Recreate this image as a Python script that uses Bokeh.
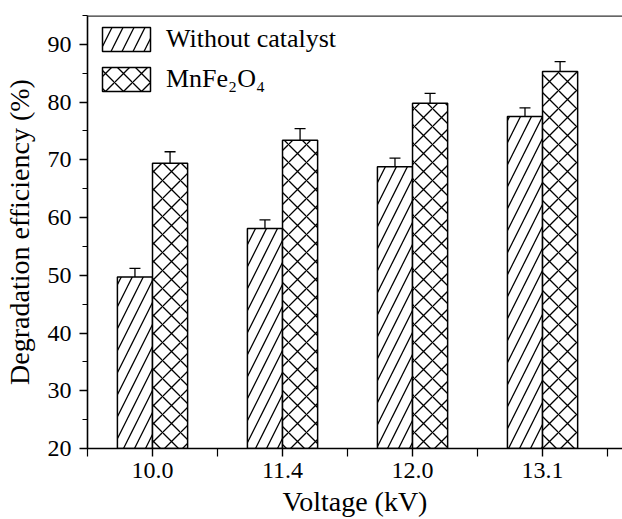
from bokeh.plotting import figure
from bokeh.models import (Range1d, FixedTicker, SingleIntervalTicker, Whisker, TeeHead,
                          ColumnDataSource, Span, Legend, LegendItem)
from bokeh.embed import file_html
from bokeh.resources import INLINE

# ---- data ----
voltages = ["10.0", "11.4", "12.0", "13.1"]
without_catalyst = [49.7, 58.1, 68.8, 77.5]
without_err = [1.5, 1.5, 1.5, 1.5]
mnfe2o4 = [69.4, 73.4, 79.8, 85.3]
mnfe2o4_err = [2.0, 2.0, 1.7, 1.7]
y_start, y_end = 20, 95
x_title = "Voltage (kV)"
y_title = "Degradation efficiency (%)"

FONT = "Liberation Serif"
BAR_W = 0.27

centers = [i + 0.5 for i in range(len(voltages))]
src1 = ColumnDataSource(dict(
    x=[c - BAR_W / 2 for c in centers], top=without_catalyst,
    upper=[v + e for v, e in zip(without_catalyst, without_err)],
    lower=[v - e for v, e in zip(without_catalyst, without_err)]))
src2 = ColumnDataSource(dict(
    x=[c + BAR_W / 2 for c in centers], top=mnfe2o4,
    upper=[v + e for v, e in zip(mnfe2o4, mnfe2o4_err)],
    lower=[v - e for v, e in zip(mnfe2o4, mnfe2o4_err)]))

x_end = 4.115
p = figure(width=622, height=519, output_backend="svg", toolbar_location=None,
           x_range=Range1d(0, x_end), y_range=Range1d(y_start, y_end),
           min_border_left=87, min_border_top=15, min_border_right=0, min_border_bottom=71)
p.outline_line_color = None
p.grid.visible = False
p.background_fill_color = "white"
p.border_fill_color = "white"

r1 = p.vbar(x="x", top="top", bottom=y_start, width=BAR_W, source=src1,
            fill_color="white", line_color="black", line_width=1.5,
            hatch_pattern="/", hatch_scale=22, hatch_weight=1.3, hatch_color="black")
r2 = p.vbar(x="x", top="top", bottom=y_start, width=BAR_W, source=src2,
            fill_color="white", line_color="black", line_width=1.5,
            hatch_pattern="x", hatch_scale=18, hatch_weight=1.3, hatch_color="black")

for s in (src1, src2):
    w = Whisker(base="x", upper="upper", lower="lower", source=s, line_width=1.3,
                line_color="black",
                upper_head=TeeHead(size=11, line_width=1.3, line_color="black"),
                lower_head=TeeHead(size=11, line_width=1.3, line_color="black"))
    p.add_layout(w)

# top border line
p.add_layout(Span(location=y_end, dimension="width", line_color="#333333", line_width=2.5))

# x axis
xa = p.xaxis[0]
xa.ticker = FixedTicker(ticks=centers, minor_ticks=list(range(len(voltages) + 1)))
xa.major_label_overrides = {c: v for c, v in zip(centers, voltages)}
xa.axis_label = x_title
# y axis
ya = p.yaxis[0]
ya.ticker = SingleIntervalTicker(interval=10, num_minor_ticks=2)
ya.axis_label = y_title

for ax in (xa, ya):
    ax.axis_line_color = "black"
    ax.axis_line_width = 1.6
    ax.major_tick_line_color = "black"
    ax.minor_tick_line_color = "black"
    ax.major_tick_line_width = 1.4
    ax.minor_tick_line_width = 1.2
    ax.major_tick_in = 0
    ax.minor_tick_in = 0
    ax.major_tick_out = 8
    ax.major_label_text_font = FONT
    ax.major_label_text_font_size = "24px"
    ax.major_label_text_color = "black"
    ax.axis_label_text_font = FONT
    ax.axis_label_text_font_size = "28px"
    ax.axis_label_text_font_style = "normal"
    ax.axis_label_text_color = "black"

xa.minor_tick_out = 8
ya.minor_tick_out = 5
xa.major_label_standoff = 6
xa.axis_label_standoff = 5
ya.major_label_standoff = 8
ya.axis_label_standoff = 10

legend = Legend(items=[LegendItem(label="Without catalyst", renderers=[r1]),
                       LegendItem(label="MnFe\u2082O\u2084", renderers=[r2])],
                location="top_left", glyph_width=60, glyph_height=30,
                label_text_font=FONT, label_text_font_size="26px", label_text_color="black",
                border_line_color=None, background_fill_alpha=0,
                spacing=10, padding=0, margin=9, label_standoff=10)
p.add_layout(legend)

open("out.html", "w").write(file_html(p, INLINE))
